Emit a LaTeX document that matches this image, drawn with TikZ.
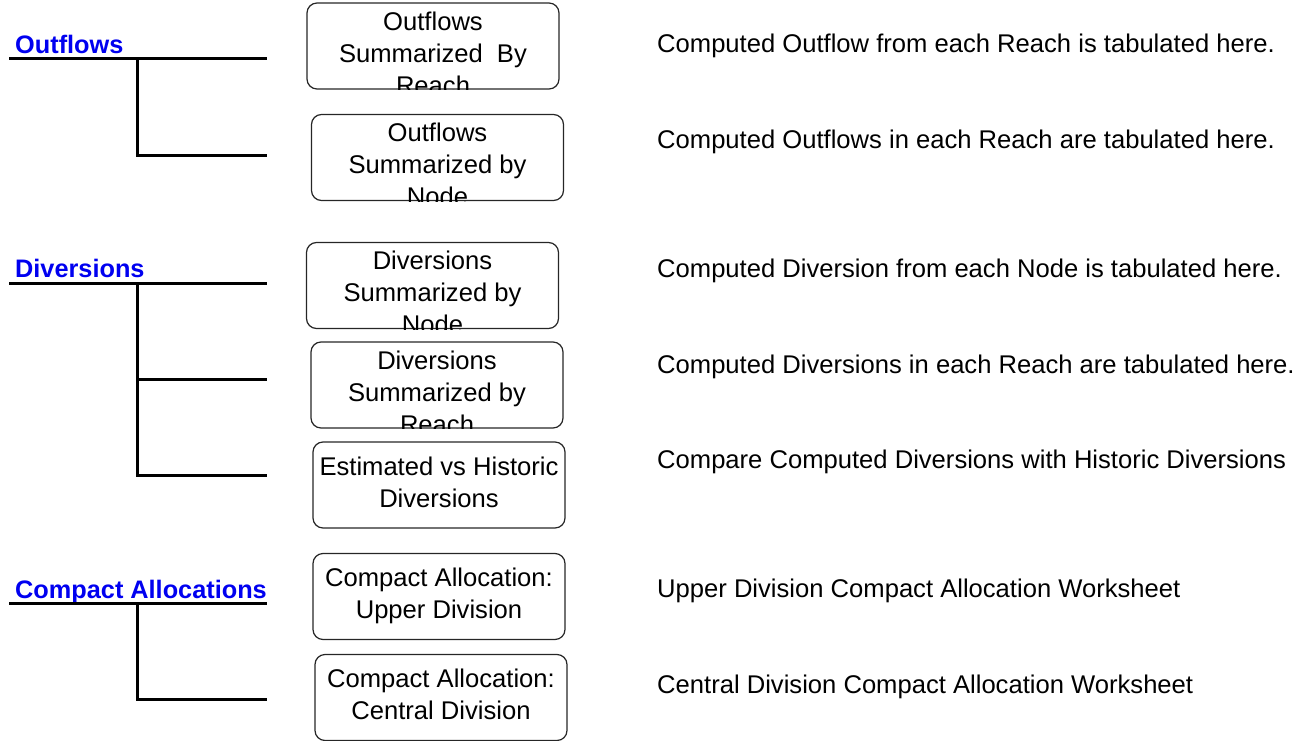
\documentclass[tikz,border=0pt]{standalone}
\usepackage{fontspec}
\setmainfont{Liberation Sans}
\definecolor{linkblue}{RGB}{0,0,240}
\tikzset{
  heading/.style={anchor=base west, inner sep=0pt, text=linkblue,
    font=\fontsize{25.3}{32}\selectfont\bfseries},
  infobox/.style={draw=black!85, line width=1.2pt, rounded corners=10pt,
    minimum width=252pt, minimum height=86pt, inner sep=0pt},
  boxtext/.style={anchor=base, inner sep=0pt, align=center, yshift=-91.7pt,
    font=\fontsize{25.6}{32}\selectfont},
  note/.style={anchor=base west, inner sep=0pt, font=\fontsize{25.6}{32}\selectfont},
  tree/.style={line width=3pt}
}
\begin{document}
\begin{tikzpicture}[x=1pt, y=-1pt]
  \useasboundingbox (0,0) rectangle (1303,741);

  % headings
  \node[heading] (outflows) at (15,54) {Outflows};
  \node[heading] (diversions) at (15,277) {Diversions};
  \node[heading] (compact) at (15,598) {Compact Allocations};

  % tree lines
  \coordinate (outL) at (9,59);    \coordinate (outR) at (267,59);
  \coordinate (outJ) at (137,59);  \coordinate (outE) at (267,155);
  \draw[tree] (outL) -- (outR);
  \draw[tree] (outJ) |- (outE);

  \coordinate (divL) at (9,283);   \coordinate (divR) at (267,283);
  \coordinate (divJ) at (137,283); \coordinate (divM) at (137,379);
  \coordinate (divM2) at (267,379); \coordinate (divE) at (267,475);
  \draw[tree] (divL) -- (divR);
  \draw[tree] (divJ) |- (divE);
  \draw[tree] (divM) -- (divM2);

  \coordinate (cmpL) at (9,603);   \coordinate (cmpR) at (267,603);
  \coordinate (cmpJ) at (137,603); \coordinate (cmpE) at (267,699);
  \draw[tree] (cmpL) -- (cmpR);
  \draw[tree] (cmpJ) |- (cmpE);

  % boxes
  \node[infobox] (outReach) at (433,46) {};
  \node[infobox] (outNode) at (437.5,157.5) {};
  \node[infobox] (divNode) at (432.5,285.5) {};
  \node[infobox] (divReach) at (437,385) {};
  \node[infobox] (divHist) at (439,485) {};
  \node[infobox] (cmpUpper) at (439,596.5) {};
  \node[infobox] (cmpCentral) at (441,697.5) {};

  \begin{scope}
    \clip[rounded corners=10pt] (outReach.north west) rectangle (outReach.south east);
    \node[boxtext] at (outReach.north) {Outflows\\Summarized\ \ By\\Reach};
  \end{scope}
  \begin{scope}
    \clip[rounded corners=10pt] (outNode.north west) rectangle (outNode.south east);
    \node[boxtext] at (outNode.north) {Outflows\\Summarized by\\Node};
  \end{scope}
  \begin{scope}
    \clip[rounded corners=10pt] (divNode.north west) rectangle (divNode.south east);
    \node[boxtext] at (divNode.north) {Diversions\\Summarized by\\Node};
  \end{scope}
  \begin{scope}
    \clip[rounded corners=10pt] (divReach.north west) rectangle (divReach.south east);
    \node[boxtext] at (divReach.north) {Diversions\\Summarized by\\Reach};
  \end{scope}
  \node[boxtext, yshift=25.4pt] at (divHist.north) {Estimated vs Historic\\Diversions};
  \node[boxtext, yshift=25.7pt] at (cmpUpper.north) {Compact Allocation:\\Upper Division};
  \node[boxtext, yshift=25.7pt] at (cmpCentral.north) {Compact Allocation:\\Central Division};

  % descriptions
  \node[note] (outReachNote) at (657,53) {Computed Outflow from each Reach is tabulated here.};
  \node[note] (outNodeNote) at (657,148) {Computed Outflows in each Reach are tabulated here.};
  \node[note] (divNodeNote) at (657,277) {Computed Diversion from each Node is tabulated here.};
  \node[note] (divReachNote) at (657,373) {Computed Diversions in each Reach are tabulated here.};
  \node[note] (divHistNote) at (657,468) {Compare Computed Diversions with Historic Diversions};
  \node[note] (cmpUpperNote) at (657,597) {Upper Division Compact Allocation Worksheet};
  \node[note] (cmpCentralNote) at (657,693) {Central Division Compact Allocation Worksheet};
\end{tikzpicture}
\end{document}
